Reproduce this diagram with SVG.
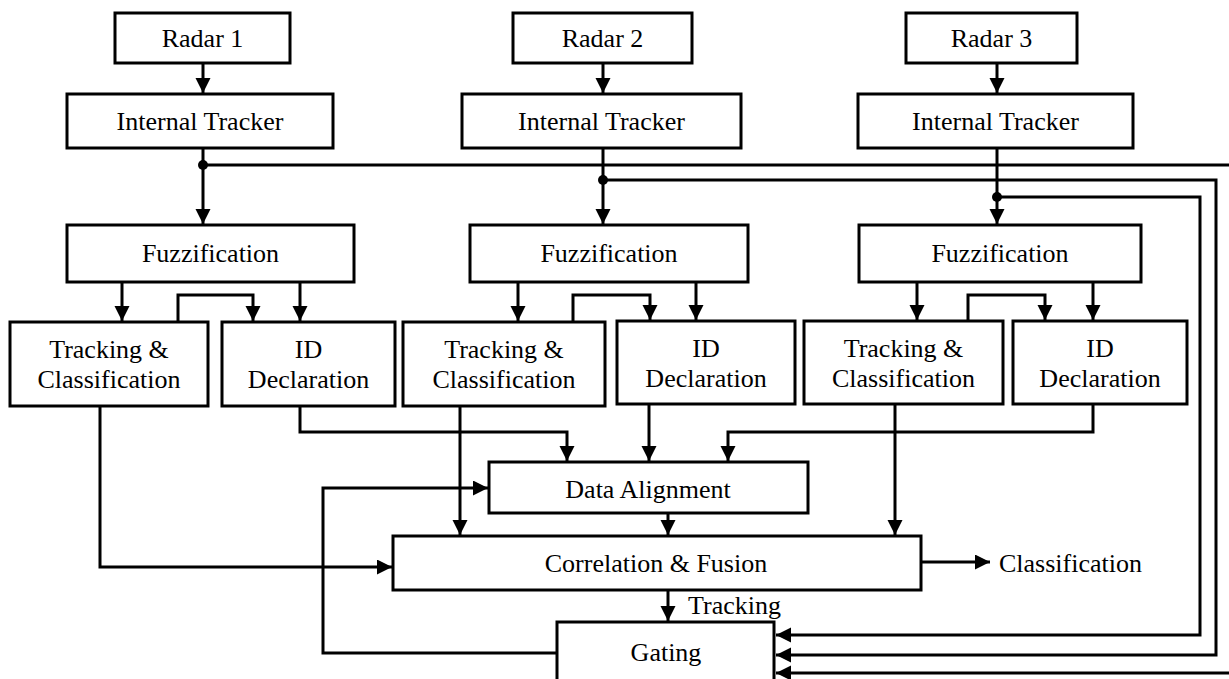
<svg xmlns="http://www.w3.org/2000/svg" width="1229" height="679" viewBox="0 0 1229 679">
<defs>
<marker id="ah" markerUnits="userSpaceOnUse" markerWidth="16" markerHeight="16" refX="15" refY="7.5" orient="auto">
<path d="M0,0 L15,7.5 L0,15 z" fill="#000"/>
</marker>
<style>
.box{fill:#fff;stroke:#000;stroke-width:3}
.t{font-family:"Liberation Serif","Times New Roman",serif;font-size:26px;fill:#000;text-anchor:middle}
.l{font-family:"Liberation Serif","Times New Roman",serif;font-size:26px;fill:#000}
.c{fill:none;stroke:#000;stroke-width:3}
.a{marker-end:url(#ah)}
</style>
</defs>
<rect width="1229" height="679" fill="#fff"/>
<g id="connectors">
<path class="c a" d="M203,63 V93"/>
<path class="c a" d="M603,63 V93"/>
<path class="c a" d="M997,63 V93"/>
<path class="c a" d="M203,148 V224"/>
<path class="c a" d="M603,148 V224"/>
<path class="c a" d="M997,148 V224"/>
<path class="c a" d="M203,165 H1235 V673 H776"/>
<path class="c a" d="M603,180 H1216 V655 H776"/>
<path class="c a" d="M997,197 H1200 V635 H776"/>
<circle cx="203" cy="165" r="5" fill="#000"/>
<circle cx="603" cy="180" r="5" fill="#000"/>
<circle cx="997" cy="197" r="5" fill="#000"/>
<path class="c a" d="M122,282 V321"/>
<path class="c a" d="M300,282 V321"/>
<path class="c a" d="M518,282 V321"/>
<path class="c a" d="M696,282 V320"/>
<path class="c a" d="M917,282 V320"/>
<path class="c a" d="M1093,282 V320"/>
<path class="c a" d="M178,322 V295 H253 V321"/>
<path class="c a" d="M573,322 V295 H650 V320"/>
<path class="c a" d="M968,321 V295 H1045 V320"/>
<path class="c a" d="M100,406 V567 H392"/>
<path class="c a" d="M300,406 V432 H567 V461"/>
<path class="c a" d="M649,404 V461"/>
<path class="c a" d="M1093,404 V432 H728 V461"/>
<path class="c a" d="M460,406 V535"/>
<path class="c a" d="M895,404 V535"/>
<path class="c a" d="M668,513 V535"/>
<path class="c a" d="M921,562 H990"/>
<path class="c a" d="M668,590 V621"/>
<path class="c a" d="M557,653 H323 V488 H488"/>
</g>
<g id="radar1"><rect class="box" x="115" y="13" width="175" height="50"/><text class="t" x="202.5" y="47">Radar 1</text></g>
<g id="radar2"><rect class="box" x="513" y="13" width="179" height="50"/><text class="t" x="602.5" y="47">Radar 2</text></g>
<g id="radar3"><rect class="box" x="906" y="13" width="171" height="50"/><text class="t" x="991.5" y="47">Radar 3</text></g>
<g id="tracker1"><rect class="box" x="67" y="94" width="266" height="54"/><text class="t" x="200" y="130">Internal Tracker</text></g>
<g id="tracker2"><rect class="box" x="462" y="94" width="279" height="54"/><text class="t" x="601.5" y="130">Internal Tracker</text></g>
<g id="tracker3"><rect class="box" x="858" y="94" width="275" height="54"/><text class="t" x="995.5" y="130">Internal Tracker</text></g>
<g id="fuzz1"><rect class="box" x="67" y="225" width="287" height="57"/><text class="t" x="210.5" y="262">Fuzzification</text></g>
<g id="fuzz2"><rect class="box" x="470" y="225" width="278" height="57"/><text class="t" x="609" y="262">Fuzzification</text></g>
<g id="fuzz3"><rect class="box" x="859" y="225" width="282" height="57"/><text class="t" x="1000" y="262">Fuzzification</text></g>
<g id="tc1"><rect class="box" x="10" y="322" width="198" height="84"/><text class="t" x="109" y="358">Tracking &amp;</text><text class="t" x="109" y="388">Classification</text></g>
<g id="id1"><rect class="box" x="222" y="322" width="173" height="84"/><text class="t" x="308.5" y="358">ID</text><text class="t" x="308.5" y="388">Declaration</text></g>
<g id="tc2"><rect class="box" x="403" y="322" width="202" height="84"/><text class="t" x="504" y="358">Tracking &amp;</text><text class="t" x="504" y="388">Classification</text></g>
<g id="id2"><rect class="box" x="617" y="321" width="178" height="83"/><text class="t" x="706" y="357">ID</text><text class="t" x="706" y="387">Declaration</text></g>
<g id="tc3"><rect class="box" x="804" y="321" width="199" height="83"/><text class="t" x="903.5" y="357">Tracking &amp;</text><text class="t" x="903.5" y="387">Classification</text></g>
<g id="id3"><rect class="box" x="1013" y="321" width="174" height="83"/><text class="t" x="1100" y="357">ID</text><text class="t" x="1100" y="387">Declaration</text></g>
<g id="align"><rect class="box" x="489" y="462" width="319" height="51"/><text class="t" x="648" y="498">Data Alignment</text></g>
<g id="fusion"><rect class="box" x="393" y="536" width="528" height="54"/><text class="t" x="656" y="572">Correlation &amp; Fusion</text></g>
<g id="classification"><text class="l" x="999" y="572">Classification</text></g>
<g id="tracking"><text class="l" x="688" y="614">Tracking</text></g>
<g id="gating"><rect class="box" x="557" y="622" width="217" height="80"/><text class="t" x="666" y="661">Gating</text></g>
</svg>
